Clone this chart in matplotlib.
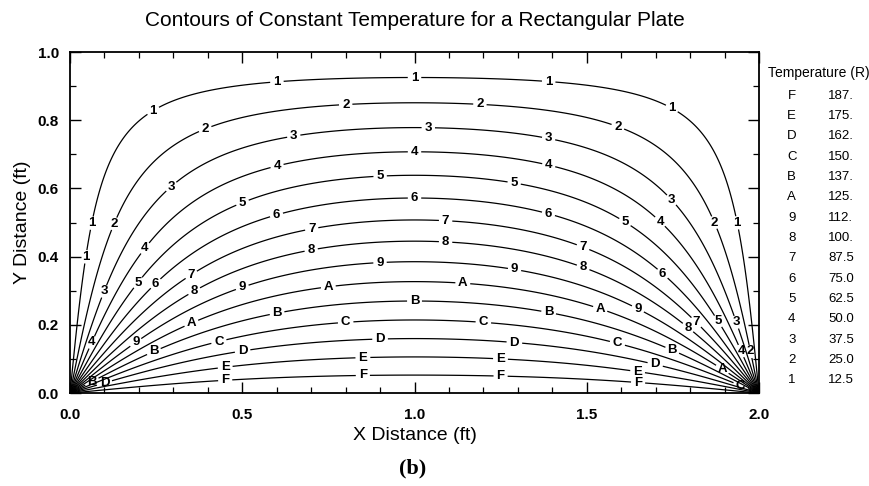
import numpy as np
import matplotlib
matplotlib.use('Agg')
import matplotlib.pyplot as plt
from matplotlib.ticker import MultipleLocator

plt.rcParams['font.family'] = ['Liberation Sans', 'DejaVu Sans']

# plate and boundary condition
plate_w = 2.0      # ft
plate_h = 1.0      # ft
t_bottom = 200.0   # R, other three edges at 0

# contour levels and their codes
levels = [12.5, 25.0, 37.5, 50.0, 62.5, 75.0, 87.5, 100.0,
          112.5, 125.0, 137.5, 150.0, 162.5, 175.0, 187.5]
codes = ['1', '2', '3', '4', '5', '6', '7', '8', '9',
         'A', 'B', 'C', 'D', 'E', 'F']

# where the labels sit on each contour
label_pos = {
    '1': [(0.24, 0.83), (0.60, 0.92), (1.0, 0.93), (1.39, 0.92), (1.75, 0.84),
          (1.94, 0.50), (0.055, 0.50), (0.044, 0.40)],
    '2': [(0.39, 0.78), (0.80, 0.85), (1.19, 0.85), (1.59, 0.78), (1.87, 0.50),
          (0.12, 0.50), (1.965, 0.12)],
    '3': [(0.29, 0.61), (0.65, 0.75), (1.04, 0.78), (1.39, 0.75), (1.75, 0.57),
          (0.095, 0.30), (1.94, 0.21)],
    '4': [(0.60, 0.67), (1.0, 0.71), (1.39, 0.67), (1.71, 0.50), (0.16, 0.47),
          (0.06, 0.15), (1.94, 0.12)],
    '5': [(0.90, 0.64), (1.29, 0.62), (0.50, 0.56), (1.61, 0.50), (0.19, 0.33),
          (1.88, 0.21)],
    '6': [(1.0, 0.57), (0.60, 0.52), (1.39, 0.53), (0.24, 0.33), (1.72, 0.35)],
    '7': [(0.70, 0.49), (1.09, 0.50), (1.49, 0.43), (0.35, 0.35), (1.82, 0.21)],
    '8': [(0.70, 0.42), (1.09, 0.44), (1.49, 0.37), (0.36, 0.30), (1.80, 0.20)],
    '9': [(0.90, 0.38), (1.29, 0.36), (0.50, 0.31), (0.19, 0.15), (1.65, 0.25)],
    'A': [(0.75, 0.31), (1.14, 0.32), (0.35, 0.21), (1.54, 0.25), (1.90, 0.08)],
    'B': [(0.60, 0.24), (1.0, 0.27), (1.39, 0.24), (0.24, 0.13), (1.75, 0.13),
          (0.05, 0.06)],
    'C': [(0.80, 0.21), (1.20, 0.21), (0.43, 0.16), (1.59, 0.15), (1.95, 0.03)],
    'D': [(0.90, 0.16), (1.29, 0.15), (0.50, 0.13), (1.70, 0.09), (0.10, 0.03)],
    'E': [(0.85, 0.11), (1.25, 0.11), (0.45, 0.08), (1.65, 0.08)],
    'F': [(0.85, 0.055), (1.25, 0.055), (0.45, 0.045), (1.65, 0.045)],
}

# temperature field: Laplace equation, series solution
x = np.linspace(0, plate_w, 801)
y = np.linspace(0, plate_h, 401)
n = np.arange(1, 2002, 2)
k = n * np.pi / plate_w
coef = 4 * t_bottom / (n * np.pi)
sx = np.sin(np.outer(k, x))
yy = plate_h - y
sy = np.exp(-np.outer(k, y)) * (1 - np.exp(-2 * np.outer(k, yy))) / (1 - np.exp(-2 * k * plate_h))[:, None]
T = (sy * coef[:, None]).T @ sx
T[0, :] = t_bottom
T[:, 0] = 0
T[:, -1] = 0
X, Y = np.meshgrid(x, y)

fig = plt.figure(figsize=(8.7, 4.86), dpi=100)
ax = fig.add_axes([0.0805, 0.191, 0.7919, 0.702])

# one contour set per level so each code gets its own label spots
for lev, code in zip(levels, codes):
    cs = ax.contour(X, Y, T, levels=[lev], colors='black', linewidths=0.9)
    txts = ax.clabel(cs, fmt={lev: code}, manual=label_pos[code],
                     inline=True, inline_spacing=3, fontsize=9.5)
    for t in txts:
        t.set_rotation(0)
        t.set_fontweight('bold')

ax.set_xlim(0, plate_w)
ax.set_ylim(0, plate_h)
ax.xaxis.set_major_locator(MultipleLocator(0.5))
ax.xaxis.set_minor_locator(MultipleLocator(0.1))
ax.yaxis.set_major_locator(MultipleLocator(0.2))
ax.yaxis.set_minor_locator(MultipleLocator(0.1))
ax.tick_params(which='both', direction='in', top=True, right=True)
ax.tick_params(which='major', length=8, width=1.0, labelsize=11, pad=11)
ax.tick_params(which='minor', length=4, width=0.9)
ax.tick_params(axis='y', which='major', pad=8)
ax.xaxis.set_major_formatter(plt.FormatStrFormatter('%.1f'))
ax.yaxis.set_major_formatter(plt.FormatStrFormatter('%.1f'))
for lab in ax.get_xticklabels() + ax.get_yticklabels():
    lab.set_fontweight('bold')
for s in ax.spines.values():
    s.set_linewidth(1.3)

ax.set_title('Contours of Constant Temperature for a Rectangular Plate', fontsize=15, pad=19)
ax.set_xlabel('X Distance (ft)', fontsize=14, labelpad=3)
ax.set_ylabel('Y Distance (ft)', fontsize=14, labelpad=5)

fig.text(0.474, 0.025, '(b)', fontsize=16, fontweight='bold', family='Liberation Serif', ha='center')

# legend of levels
fig.text(0.883, 0.85, 'Temperature (R)', fontsize=10, va='center')
for i, (lev, code) in enumerate(zip(levels[::-1], codes[::-1])):
    yp = 0.803 - i * 0.0418
    val = '%d.' % int(lev) if lev >= 100 else '%.1f' % lev
    fig.text(0.910, yp, code, fontsize=9.5, ha='center', va='center')
    fig.text(0.952, yp, val, fontsize=9.5, ha='left', va='center')

plt.savefig('out.png', dpi=100)
